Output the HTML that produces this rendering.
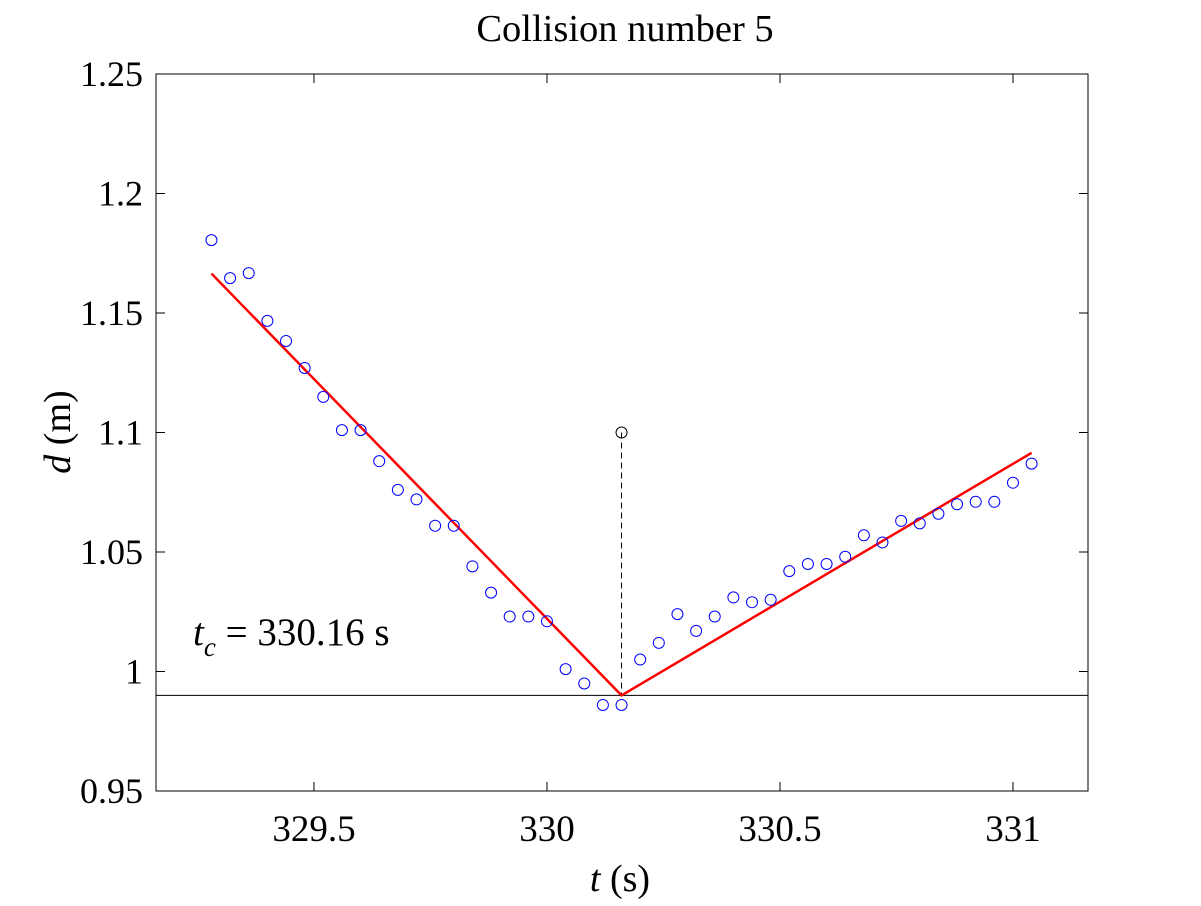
<!DOCTYPE html>
<html><head><meta charset="utf-8"><style>
body{margin:0;background:#fff}
svg text{font-family:"Liberation Serif",serif;fill:#000}
</style></head><body>
<svg id="chart" width="1201" height="901">
<rect width="1201" height="901" fill="#fff"/>
<text x="625" y="41" font-size="38.5" text-anchor="middle">Collision number 5</text>
<g id="plot"></g>
<text x="620" y="891" font-size="38" text-anchor="middle"><tspan font-style="italic">t</tspan> (s)</text>
<text transform="translate(70,432) rotate(-90)" font-size="38" text-anchor="middle"><tspan font-style="italic">d</tspan> (m)</text>
<text x="193" y="645" font-size="39"><tspan font-style="italic">t</tspan><tspan font-style="italic" font-size="27" dy="11">c</tspan><tspan dy="-11"> = 330.16 s</tspan></text>
</svg>
<script>
const tValues=[329.28,329.32,329.36,329.40,329.44,329.48,329.52,329.56,329.60,329.64,329.68,329.72,329.76,329.80,329.84,329.88,329.92,329.96,330.00,330.04,330.08,330.12,330.16,330.20,330.24,330.28,330.32,330.36,330.40,330.44,330.48,330.52,330.56,330.60,330.64,330.68,330.72,330.76,330.80,330.84,330.88,330.92,330.96,331.00,331.04];
const dValues=[1.1805,1.1646,1.1667,1.1467,1.1383,1.127,1.1149,1.101,1.101,1.088,1.076,1.072,1.061,1.061,1.044,1.033,1.023,1.023,1.021,1.001,0.995,0.986,0.986,1.005,1.012,1.024,1.017,1.023,1.031,1.029,1.030,1.042,1.045,1.045,1.048,1.057,1.054,1.063,1.062,1.066,1.070,1.071,1.071,1.079,1.087];
const fitT=[329.28,330.16,331.04];
const fitD=[1.1665,0.990,1.0915];
const collisionT=330.16, collisionMarkerD=1.1, baselineD=0.99;
const xTicks=[329.5,330,330.5,331];
const xTickLabels=["329.5","330","330.5","331"];
const yTicks=[0.95,1,1.05,1.1,1.15,1.2,1.25];
const yTickLabels=["0.95","1","1.05","1.1","1.15","1.2","1.25"];
const X0=156,X1=1088,Y0=74,Y1=791,xmin=329.161,xmax=331.161,ymin=0.95,ymax=1.25;
const sx=v=>X0+(v-xmin)/(xmax-xmin)*(X1-X0);
const sy=v=>Y1-(v-ymin)/(ymax-ymin)*(Y1-Y0);
const NS="http://www.w3.org/2000/svg";
const g=document.getElementById('plot');
function mk(t,a){const e=document.createElementNS(NS,t);for(const k in a)e.setAttribute(k,a[k]);g.appendChild(e);return e;}
let e=mk('rect',{x:X0,y:Y0,width:X1-X0,height:Y1-Y0,fill:'none',stroke:'#000','stroke-width':1});


xTicks.forEach((v,i)=>{const x=sx(v);
e=mk('line',{x1:x,x2:x,y1:Y1,y2:Y1-9,stroke:'#000'});


e=mk('line',{x1:x,x2:x,y1:Y0,y2:Y0+9,stroke:'#000'});


e=mk('text',{x:x,y:841,'font-size':37,'text-anchor':'middle'});e.textContent=xTickLabels[i];

});
yTicks.forEach((v,i)=>{const y=sy(v);
e=mk('line',{x1:X0,x2:X0+9,y1:y,y2:y,stroke:'#000'});


e=mk('line',{x1:X1,x2:X1-9,y1:y,y2:y,stroke:'#000'});


e=mk('text',{x:143,y:y+12,'font-size':36,'text-anchor':'end'});e.textContent=yTickLabels[i];

});
e=mk('line',{x1:X0,x2:X1,y1:sy(baselineD),y2:sy(baselineD),stroke:'#000','stroke-width':1});


e=mk('line',{x1:sx(collisionT),x2:sx(collisionT),y1:sy(collisionMarkerD),y2:sy(baselineD),stroke:'#000','stroke-dasharray':'6,4'});


e=mk('circle',{cx:sx(collisionT),cy:sy(collisionMarkerD),r:5.5,fill:'none',stroke:'#000'});


e=mk('polyline',{points:fitT.map((t,i)=>sx(t)+','+sy(fitD[i])).join(' '),fill:'none',stroke:'#f00','stroke-width':2.5});


tValues.forEach((t,i)=>{e=mk('circle',{cx:sx(t),cy:sy(dValues[i]),r:5.5,fill:'none',stroke:'#00f','stroke-width':1});

});
</script>
</body></html>
